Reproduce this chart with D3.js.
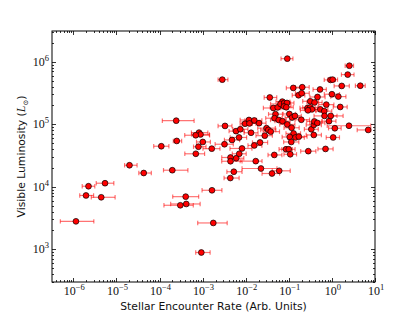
<!DOCTYPE html>
<html><head><meta charset="utf-8">
<script src="https://cdn.jsdelivr.net/npm/d3@7"></script>
<style>body{margin:0;background:#fff}</style>
</head><body>
<svg id="c" width="417" height="313"></svg>
<script>
// Stellar encounter rate (arbitrary units)
const encounterRate = [1.15e-6,2.25e-6,1.97e-6,5.44e-6,4.44e-6,2.01e-5,4.30e-5,1.10e-4,1.98e-4,2.44e-4,
2.51e-4,8.25e-4,8.94e-4,6.92e-4,1.01e-3,8.0e-4,6.95e-4,4.05e-4,4.17e-4,3.04e-4,
9.33e-4,1.63e-3,1.65e-3,1.77e-3,2.86e-3,3.31e-3,3.22e-3,4.81e-3,4.44e-3,6.02e-3,
4.44e-3,5.3e-3,4.4e-3,5.96e-3,7.5e-3,7.0e-3,7.08e-3,8.2e-3,9.64e-3,1.19e-2,
1.58e-2,1.22e-2,2.04e-2,1.33e-2,1.58e-2,1.71e-2,2.15e-2,2.26e-2,4.07e-2,5.99e-2,
3.04e-2,3.34e-2,3.8e-2,2.77e-2,3.62e-2,4.61e-2,4.37e-2,5.52e-2,4.91e-2,4.66e-2,
5.83e-2,7.14e-2,7.06e-2,6.42e-2,7.86e-2,9.08e-2,7.74e-2,8.75e-2,9.23e-2,0.103,
0.0923,0.116,0.129,0.105,0.143,0.171,0.114,0.0861,0.0998,0.108,
0.127,0.205,0.168,0.199,0.119,0.139,0.195,0.283,0.315,0.395,
0.463,0.53,0.272,0.315,0.345,0.279,0.538,0.663,0.741,0.674,
0.938,0.333,0.38,0.391,0.459,0.38,0.857,1.17,1.07,0.711,
2.49,6.95,1.0,1.41,1.56,0.929,1.04,1.69,4.56,2.33,2.54];
// Visible luminosity (L_sun)
const luminosity = [2800,10200,7260,11400,6790,22100,16600,44500,18400,114000,
54100,73400,68700,66700,52100,43700,33700,6950,5310,5060,
889,40700,8790,2640,517000,94000,47900,56100,29400,28600,
25600,17400,13800,77600,83200,61500,33700,41000,102000,117000,
115000,103000,104000,73100,45800,25700,51100,19600,16300,18000,
86600,81100,76200,65700,268000,32300,182000,186000,145000,125000,
117000,112000,230000,211000,219000,219000,193000,187000,1120000,146000,
99300,87900,71300,62600,61500,63400,52100,39800,39800,33100,
381000,391000,291000,313000,128000,136000,118000,37100,233000,223000,
273000,360000,182000,186000,173000,167000,173000,162000,206000,136000,
136000,83200,97500,111000,105000,67400,112000,86300,61500,40300,
94600,81100,302000,277000,189000,512000,517000,410000,413000,622000,863000];
// Error bar extent as multiplicative factors (lower: x / f, upper: x * f)
const errLowFactor = [2.3,1.4,1.4,1.6,1.7,1.3,1.3,1.5,1.6,2.1,
1.2,1.5,1.6,1.8,1.4,1.3,1.8,2.0,2.3,2.4,
1.35,1.6,1.7,2.3,1.25,1.45,1.65,1.5,1.6,1.4,
1.6,1.45,1.4,1.45,1.5,1.6,1.45,1.9,1.3,1.6,
1.65,1.5,1.45,1.45,1.4,2.3,1.5,2.75,1.7,1.45,
1.6,1.5,1.5,1.6,1.35,1.4,1.7,1.5,1.45,1.6,
1.55,1.5,1.4,1.7,1.4,1.45,1.45,1.4,1.4,1.4,
1.5,1.5,1.5,1.5,1.5,1.5,1.5,1.45,1.45,1.4,
1.45,1.45,1.4,1.4,1.45,1.45,1.4,1.5,1.5,1.5,
1.5,1.45,1.5,1.5,1.5,1.5,1.5,1.55,1.5,1.75,
1.5,1.45,1.5,1.5,1.5,1.5,1.45,1.4,1.45,1.5,
3.2,1.8,1.5,1.5,1.45,1.4,1.3,1.5,1.3,1.4,1.25];
const errHighFactor = [2.6,1.4,1.5,1.6,2.1,1.5,1.5,1.5,2.3,2.6,
1.3,1.6,1.6,2.1,1.5,1.5,1.6,2.0,2.1,2.0,
1.6,1.55,1.7,2.1,1.35,1.45,1.6,1.5,1.5,1.5,
1.85,1.55,1.6,1.55,1.5,1.5,1.45,1.7,1.45,1.5,
1.5,1.4,1.45,1.45,1.5,1.4,1.5,2.35,1.5,1.8,
1.6,1.5,1.6,1.5,1.45,1.5,1.5,1.55,1.45,1.5,
1.5,1.5,1.5,1.5,1.4,1.45,1.45,1.45,1.35,1.4,
1.5,1.5,1.45,1.5,1.6,1.55,1.5,1.4,1.4,1.4,
1.5,1.45,1.4,1.5,1.45,1.4,1.55,1.5,1.55,1.5,
1.5,1.4,1.5,1.5,1.5,1.5,1.5,1.5,1.5,2.7,
1.4,1.45,1.5,1.5,1.5,1.5,1.45,1.4,1.4,1.5,
3.2,1.15,1.5,1.5,1.45,1.3,1.3,1.5,1.3,1.4,1.25];
const xTickExponents = [-6,-5,-4,-3,-2,-1,0,1];
const yTickExponents = [3,4,5,6];
const xDomain = [3.2e-7, 10];
const yDomain = [300, 3.1e6];
const xLabel = "Stellar Encounter Rate (Arb. Units)";
const yLabelText = "Visible Luminosity (";

const W = 417, H = 313;
const m = {l:52, r:42, t:31, b:31};
const svg = d3.select("#c");
const x = d3.scaleLog().domain(xDomain).range([m.l, W - m.r]);
const y = d3.scaleLog().domain(yDomain).range([H - m.b, m.t]);

svg.append("defs").append("clipPath").attr("id","clip")
  .append("rect").attr("x",m.l).attr("y",m.t).attr("width",W-m.l-m.r).attr("height",H-m.t-m.b);

const pts = encounterRate.map((v,i)=>({x:v, y:luminosity[i], lo:v/errLowFactor[i], hi:v*errHighFactor[i]}));

const plot = svg.append("g").attr("clip-path","url(#clip)");
const barCol = "#ff0000";
const eb = plot.append("g").attr("stroke", barCol).attr("stroke-opacity",0.55).attr("stroke-width",1.2).attr("fill","none");
pts.forEach(p=>{
  const yy = y(p.y);
  eb.append("line").attr("x1",x(p.lo)).attr("x2",x(p.hi)).attr("y1",yy).attr("y2",yy);
  eb.append("line").attr("x1",x(p.lo)).attr("x2",x(p.lo)).attr("y1",yy-2.2).attr("y2",yy+2.2);
  eb.append("line").attr("x1",x(p.hi)).attr("x2",x(p.hi)).attr("y1",yy-2.2).attr("y2",yy+2.2);
});
plot.append("g").selectAll("circle").data(pts).join("circle")
  .attr("cx",d=>x(d.x)).attr("cy",d=>y(d.y)).attr("r",2.9)
  .attr("fill","#ff0000").attr("stroke","#000").attr("stroke-width",0.7);

// frame
const fr = svg.append("g").attr("stroke","#000").attr("fill","none");
fr.append("rect").attr("x",m.l).attr("y",m.t).attr("width",W-m.l-m.r).attr("height",H-m.t-m.b).attr("stroke-width",1);

// ticks
function minorTicks(domain){
  const out=[];
  const a=Math.floor(Math.log10(domain[0])), b=Math.ceil(Math.log10(domain[1]));
  for(let e=a;e<=b;e++) for(let k=2;k<=9;k++){const v=k*Math.pow(10,e); if(v>=domain[0]&&v<=domain[1]) out.push(v);}
  return out;
}
const tk = svg.append("g").attr("stroke","#000").attr("stroke-width",0.8);
const xMaj = xTickExponents.map(e=>Math.pow(10,e));
const yMaj = yTickExponents.map(e=>Math.pow(10,e));
const xs=[...xMaj.map(v=>[v,4]), ...minorTicks(xDomain).map(v=>[v,2])];
const ys=[...yMaj.map(v=>[v,4]), ...minorTicks(yDomain).map(v=>[v,2])];
xs.forEach(([v,L])=>{const xx=Math.round(x(v))+0.5;
  tk.append("line").attr("x1",xx).attr("x2",xx).attr("y1",H-m.b).attr("y2",H-m.b-L);
  tk.append("line").attr("x1",xx).attr("x2",xx).attr("y1",m.t).attr("y2",m.t+L);});
ys.forEach(([v,L])=>{const yy=Math.round(y(v))+0.5;
  tk.append("line").attr("y1",yy).attr("y2",yy).attr("x1",m.l).attr("x2",m.l+L);
  tk.append("line").attr("y1",yy).attr("y2",yy).attr("x1",W-m.r).attr("x2",W-m.r-L);});

const serif = "'Liberation Serif','DejaVu Serif',serif";
function powLabel(g, e){
  g.append("tspan").text("10");
  g.append("tspan").attr("dy",-5).attr("font-size",8.5).text(String(e).replace("-","\u2212"));
}
xTickExponents.forEach(e=>{
  const t = svg.append("text").attr("x",x(Math.pow(10,e))+1).attr("y",H-m.b+13)
    .attr("text-anchor","middle").attr("font-family",serif).attr("font-size",12).attr("fill","#111");
  powLabel(t,e);
});
yTickExponents.forEach(e=>{
  const t = svg.append("text").attr("x",m.l-3).attr("y",y(Math.pow(10,e))+4)
    .attr("text-anchor","end").attr("font-family",serif).attr("font-size",12).attr("fill","#111");
  powLabel(t,e);
});

const sans = "'DejaVu Sans',sans-serif";
svg.append("text").attr("x",(m.l+W-m.r)/2).attr("y",H-3).attr("text-anchor","middle")
  .attr("font-family",sans).attr("font-size",10.8).attr("fill","#111").text(xLabel);
const yl = svg.append("text").attr("transform",`translate(25,${(m.t+H-m.b)/2}) rotate(-90)`)
  .attr("text-anchor","middle").attr("font-family",sans).attr("font-size",10.8).attr("fill","#111");
yl.append("tspan").text(yLabelText);
yl.append("tspan").attr("font-family",serif).attr("font-style","italic").attr("font-size",12).text("L");
yl.append("tspan").attr("dy",2.5).attr("font-size",7).attr("font-family",serif).text("\u2299");
yl.append("tspan").attr("dy",-2.5).text(")");
</script>
</body></html>
